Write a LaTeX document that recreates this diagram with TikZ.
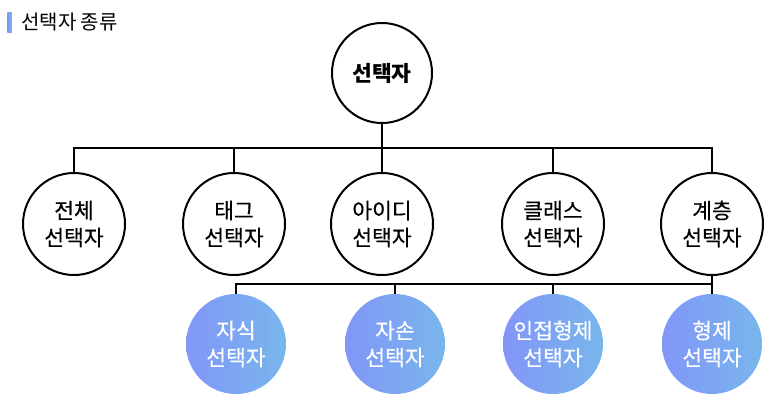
\documentclass[tikz,border=0pt]{standalone}
\usepackage{fontspec}
\setmainfont{Noto Sans CJK KR}
\newfontfamily\medfont[FakeBold=0.4]{Noto Sans CJK KR}
\definecolor{gradl}{HTML}{8296F8}
\definecolor{gradr}{HTML}{78B6EC}
\tikzset{
  kind/.style={circle, draw, line width=2pt, minimum size=102pt, inner sep=0pt,
    align=center, font=\medfont\fontsize{21.5}{27}\selectfont},
  sub/.style={circle, minimum size=100pt, inner sep=0pt, align=center,
    left color=gradl, right color=gradr, text=white,
    font=\medfont\fontsize{21.5}{27}\selectfont},
  wire/.style={line width=2pt}
}
\begin{document}
\begin{tikzpicture}[x=1pt, y=-1pt]
    \useasboundingbox (0,0) rectangle (779,410);
    % Title
    \node[rectangle, minimum width=4.5pt, minimum height=20pt, inner sep=0pt,
      left color=gradl, right color=gradr] (bar) at (9.5,22.5) {};
    \node[anchor=west, inner sep=0pt, font=\fontsize{20}{22}\selectfont] (title)
      at (21,22) {선택자 종류};
    % Nodes
    \node[kind, minimum size=100pt, font=\fontsize{21.5}{27}\selectfont\bfseries]
      (root) at (382,73) {선택자};
    \node[kind] (all)   at (74,224)  {전체\\선택자};
    \node[kind] (tag)   at (234,224) {태그\\선택자};
    \node[kind] (id)    at (382,224) {아이디\\선택자};
    \node[kind] (class) at (553,224) {클래스\\선택자};
    \node[kind] (lay)   at (712,224) {계층\\선택자};
    \node[sub] (child) at (236,344) {자식\\선택자};
    \node[sub] (desc)  at (395,344) {자손\\선택자};
    \node[sub] (adj)   at (553,344) {인접형제\\선택자};
    \node[sub] (sib)   at (712,344) {형제\\선택자};
    \coordinate (bus1) at (382,148);
    \coordinate (bus2) at (712,284);
    % Edges
    \draw[wire] (root) -- (bus1);
    \draw[wire] (all.north) |- (bus1) -| (lay.north);
    \draw[wire] (tag.north) -- (tag.north |- bus1);
    \draw[wire] (id.north) -- (id.north |- bus1);
    \draw[wire] (class.north) -- (class.north |- bus1);
    \draw[wire] (lay) -- (sib);
    \draw[wire] (child.north) |- (bus2);
    \draw[wire] (desc.north) -- (desc.north |- bus2);
    \draw[wire] (adj.north) -- (adj.north |- bus2);
\end{tikzpicture}
\end{document}
